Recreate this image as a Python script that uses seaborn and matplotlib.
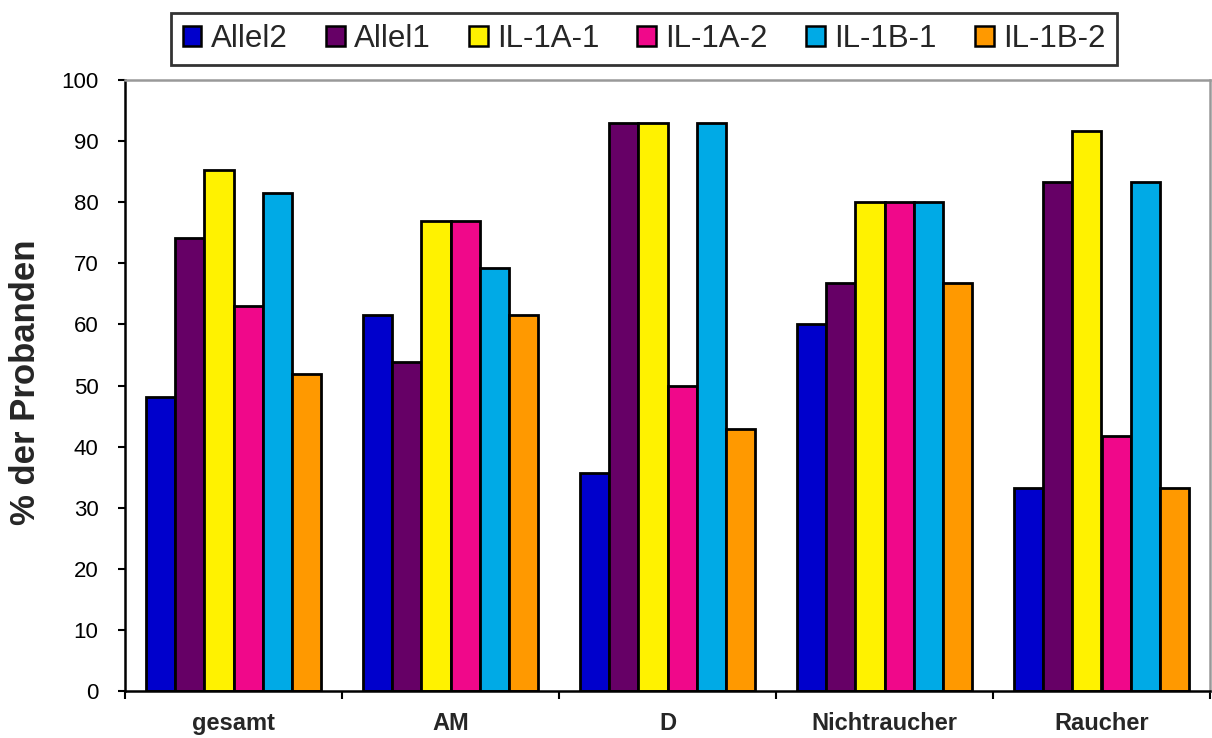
import matplotlib
matplotlib.use("Agg")
import matplotlib.pyplot as plt
import seaborn as sns
import pandas as pd
from matplotlib.ticker import FixedLocator

# Gruppen und Merkmale
gruppen = ["gesamt", "AM", "D", "Nichtraucher", "Raucher"]
merkmale = ["Allel2", "Allel1", "IL-1A-1", "IL-1A-2", "IL-1B-1", "IL-1B-2"]

# Anteil der Probanden (%) je Gruppe
allel2 = [48.1, 61.5, 35.7, 60.0, 33.3]
allel1 = [74.1, 53.8, 92.9, 66.7, 83.3]
il1a_1 = [85.2, 76.9, 92.9, 80.0, 91.7]
il1a_2 = [63.0, 76.9, 50.0, 80.0, 41.7]
il1b_1 = [81.5, 69.2, 92.9, 80.0, 83.3]
il1b_2 = [51.9, 61.5, 42.9, 66.7, 33.3]

farben = ["#0000CC", "#660066", "#FFF200", "#F0088A", "#00AAE6", "#FF9900"]

werte = [allel2, allel1, il1a_1, il1a_2, il1b_1, il1b_2]
rows = []
for m, serie in zip(merkmale, werte):
    for g, v in zip(gruppen, serie):
        rows.append({"Gruppe": g, "Merkmal": m, "Prozent": v})
df = pd.DataFrame(rows)

sns.set_style("white")
plt.rcParams["font.family"] = ["Liberation Sans", "DejaVu Sans"]

fig = plt.figure(figsize=(12.12, 7.38), dpi=100)
ax = fig.add_axes([125 / 1212, 47 / 738, 1085 / 1212, 611 / 738])

sns.barplot(
    data=df, x="Gruppe", y="Prozent", hue="Merkmal",
    order=gruppen, hue_order=merkmale, palette=farben,
    width=0.81, edgecolor="black", linewidth=2.0, saturation=1,
    ax=ax,
)

ax.set_xlim(-0.5, len(gruppen) - 0.5)
ax.set_ylim(0, 100)
ax.set_yticks(range(0, 101, 10))
ax.tick_params(axis="y", direction="out", length=5, width=1.5, pad=14,
               labelsize=16, left=True, colors="black")
ax.tick_params(axis="x", which="major", length=0, pad=15)
ax.xaxis.set_minor_locator(FixedLocator([i - 0.5 for i in range(len(gruppen) + 1)]))
ax.tick_params(axis="x", which="minor", direction="out", length=6, width=1.5,
               bottom=True, color="black")
for lab in ax.get_xticklabels():
    lab.set_fontsize(17)
    lab.set_fontweight("bold")

ax.set_xlabel("")
ax.set_ylabel("% der Probanden", fontsize=25, fontweight="bold")
ax.yaxis.set_label_coords(-0.092, 0.506)
ax.yaxis.label.set_va("center")

for side in ["left", "bottom"]:
    ax.spines[side].set_color("black")
    ax.spines[side].set_linewidth(1.8)
for side in ["top", "right"]:
    ax.spines[side].set_color("#999999")
    ax.spines[side].set_linewidth(1.8)

handles, labels = ax.get_legend_handles_labels()
ax.get_legend().remove()
for h in handles:
    h.set_edgecolor("black")
    h.set_linewidth(1.8)
leg = fig.legend(
    handles, labels, ncol=6, loc="center",
    bbox_to_anchor=(644 / 1212, 1 - 39 / 738),
    fontsize=22.5, frameon=True, fancybox=False, edgecolor="black",
    handlelength=0.6, handleheight=0.6, handletextpad=0.3,
    columnspacing=1.22, borderpad=0.36, borderaxespad=0,
)
leg.get_frame().set_linewidth(2.0)

fig.savefig("out.png", dpi=100, facecolor="white")
